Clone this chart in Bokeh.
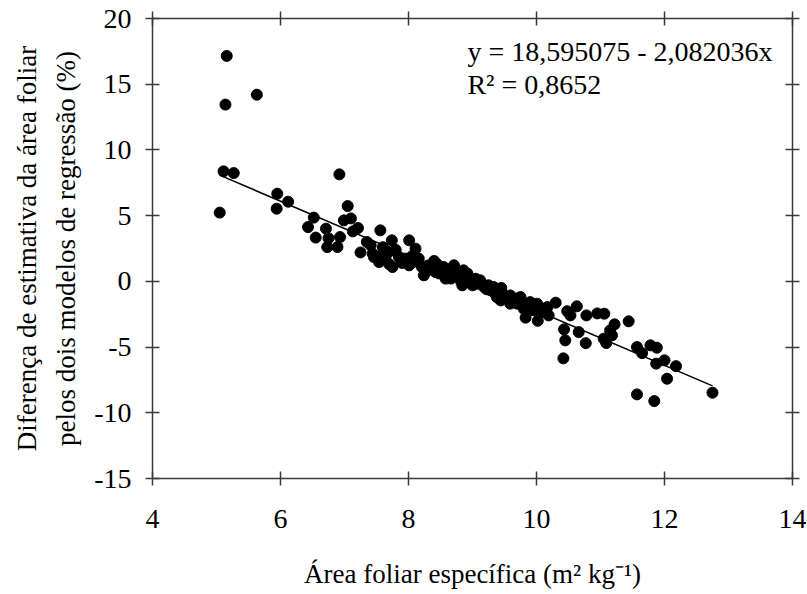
from bokeh.plotting import figure
from bokeh.models import LinearAxis, FixedTicker, Label, ColumnDataSource
from bokeh.embed import file_html
from bokeh.resources import INLINE

# ---- data ----
afe = [5.16, 5.14, 5.63, 5.11, 5.27, 5.05, 5.95, 5.94, 6.12, 6.92,
       7.05, 6.52, 6.43, 6.55, 6.71, 6.75, 6.73, 6.89, 6.93, 6.99,
       7.10, 7.21, 7.13, 7.25, 7.41, 7.46, 7.44, 7.56, 7.54, 7.74,
       8.01, 8.11, 7.69, 7.64, 7.75, 7.85, 7.95, 8.01, 8.16, 8.21,
       8.24, 8.40, 8.42, 8.55, 8.58, 8.71, 8.74, 8.84, 8.55, 8.86,
       8.66, 8.81, 8.97, 9.07, 9.18, 9.28, 9.41, 9.49, 9.59, 9.75,
       9.44, 9.59, 9.90, 10.01, 10.11, 9.83, 9.70, 9.80, 9.33, 9.12,
       10.02, 10.30, 10.17, 10.09, 10.19, 10.48, 10.53, 10.63, 10.78, 10.95,
       11.06, 10.43, 10.45, 10.42, 10.66, 10.77, 11.05, 11.09, 11.18, 11.22,
       11.15, 11.44, 11.57, 11.65, 11.78, 11.88, 11.87, 12.00, 12.18, 12.04,
       11.57, 11.84, 12.75,
       7.80, 7.90, 8.05, 8.10, 8.30, 8.35, 8.48, 8.62, 8.90, 9.00,
       9.05, 9.15, 9.22, 9.35, 9.38, 9.52, 9.65, 9.70, 9.85, 9.95,
       7.35, 7.60, 7.58, 7.70, 8.28, 8.45, 8.68, 8.78, 8.92, 9.25, 9.45]
diferenca = [17.15, 13.45, 14.20, 8.37, 8.24, 5.23, 6.67, 5.53, 6.06, 8.14,
             5.73, 4.85, 4.13, 3.33, 4.01, 3.28, 2.61, 2.61, 3.37, 4.64,
             4.79, 4.06, 3.80, 2.20, 2.74, 1.85, 2.11, 3.88, 1.47, 3.12,
             3.12, 2.49, 2.23, 1.73, 1.09, 1.85, 1.73, 1.22, 1.73, 1.09,
             0.46, 1.55, 0.71, 1.09, 0.21, 1.22, 0.46, -0.30, 0.84, 0.84,
             0.21, 0.08, -0.05, -0.18, -0.43, -0.68, -0.81, -1.07, -1.07, -1.19,
             -1.45, -1.70, -1.58, -1.70, -2.08, -2.76, -1.70, -2.08, -0.43, 0.08,
             -3.00, -1.62, -1.96, -2.33, -2.59, -2.27, -2.59, -1.90, -2.59, -2.44,
             -2.46, -3.65, -4.49, -5.86, -3.86, -4.70, -4.36, -4.69, -4.11, -3.27,
             -3.73, -3.04, -5.00, -5.46, -4.87, -5.05, -6.26, -6.01, -6.45, -7.41,
             -8.60, -9.11, -8.47,
             2.40, 1.40, 1.90, 1.50, 1.20, 0.90, 0.60, 0.50, 0.30, -0.30,
             0.20, -0.20, -0.60, -0.90, -1.20, -1.30, -1.40, -1.30, -1.90, -2.20,
             3.00, 2.60, 2.00, 1.30, 0.80, 1.30, 0.90, 0.50, 0.60, -0.30, -0.50]

intercepto = 18.595075
inclinacao = -2.082036
r2_text = "R² = 0,8652"
eq_text = "y = 18,595075 - 2,082036x"

x_ticks = [4, 6, 8, 10, 12, 14]
y_ticks = [-15, -10, -5, 0, 5, 10, 15, 20]
y_tick_labels = ["-15", "-10", "-5", "0", "5", "10", "15", "20"]

x_label = "Área foliar específica (m² kg⁻¹)"
y_label_1 = "Diferença de estimativa da área foliar"
y_label_2 = "pelos dois modelos de regressão (%)"

FONT = "Liberation Serif"
TICK_FS = "28px"
LAB_FS = "27px"
AXC = "#3a3a3a"

p = figure(frame_width=640, frame_height=460, x_range=(4, 14), y_range=(-15, 20),
           output_backend="svg", toolbar_location=None,
           x_axis_location=None, y_axis_location=None,
           min_border_left=152, min_border_right=14,
           min_border_top=18, min_border_bottom=115)
p.outline_line_color = None
p.grid.visible = False
p.background_fill_color = "white"
p.border_fill_color = "white"


def style_axis(ax, labels=True):
    ax.axis_line_color = AXC
    ax.axis_line_width = 1.5
    ax.major_tick_line_color = AXC
    ax.major_tick_line_width = 1.5
    ax.major_tick_in = 7
    ax.major_tick_out = 7
    ax.minor_tick_line_color = None
    ax.major_label_text_font = FONT
    ax.major_label_text_color = "black"
    ax.axis_label_text_font = FONT
    ax.axis_label_text_font_style = "normal"
    ax.axis_label_text_font_size = LAB_FS
    ax.axis_label_text_color = "black"
    if labels:
        ax.major_label_text_font_size = TICK_FS
    else:
        ax.major_label_text_font_size = "1px"
        ax.major_label_text_color = None
        ax.major_label_standoff = 0


xb = LinearAxis(ticker=FixedTicker(ticks=x_ticks), axis_label=x_label)
style_axis(xb)
xb.major_label_standoff = 24
xb.axis_label_standoff = 28
p.add_layout(xb, "below")

xt = LinearAxis(ticker=FixedTicker(ticks=x_ticks))
style_axis(xt, labels=False)
xt.major_label_overrides = {t: "" for t in x_ticks}
p.add_layout(xt, "above")

yl = LinearAxis(ticker=FixedTicker(ticks=y_ticks), axis_label=y_label_2)
style_axis(yl)
yl.major_label_overrides = dict(zip(y_ticks, y_tick_labels))
yl.major_label_standoff = 14
yl.axis_label_standoff = 10
p.add_layout(yl, "left")

yl2 = LinearAxis(ticker=FixedTicker(ticks=[]), axis_label=y_label_1)
style_axis(yl2, labels=False)
yl2.axis_line_color = None
yl2.major_tick_line_color = None
yl2.major_tick_out = 0
yl2.major_tick_in = 0
yl2.axis_label_standoff = 7
p.add_layout(yl2, "left")

yr = LinearAxis(ticker=FixedTicker(ticks=y_ticks))
style_axis(yr, labels=False)
yr.major_label_overrides = {t: "" for t in y_ticks}
p.add_layout(yr, "right")

src = ColumnDataSource(dict(x=afe, y=diferenca))
p.scatter("x", "y", source=src, size=11, color="black")

xmin, xmax = min(afe), max(afe)
p.line([xmin, xmax], [intercepto + inclinacao * xmin, intercepto + inclinacao * xmax],
       line_color="black", line_width=1.5)

p.add_layout(Label(x=8.92, y=17.5, text=eq_text, text_font=FONT, text_font_size="28px",
                   text_baseline="middle", text_color="black"))
p.add_layout(Label(x=8.92, y=15.0, text=r2_text, text_font=FONT, text_font_size="28px",
                   text_baseline="middle", text_color="black"))

open("out.html", "w").write(file_html(p, INLINE))
